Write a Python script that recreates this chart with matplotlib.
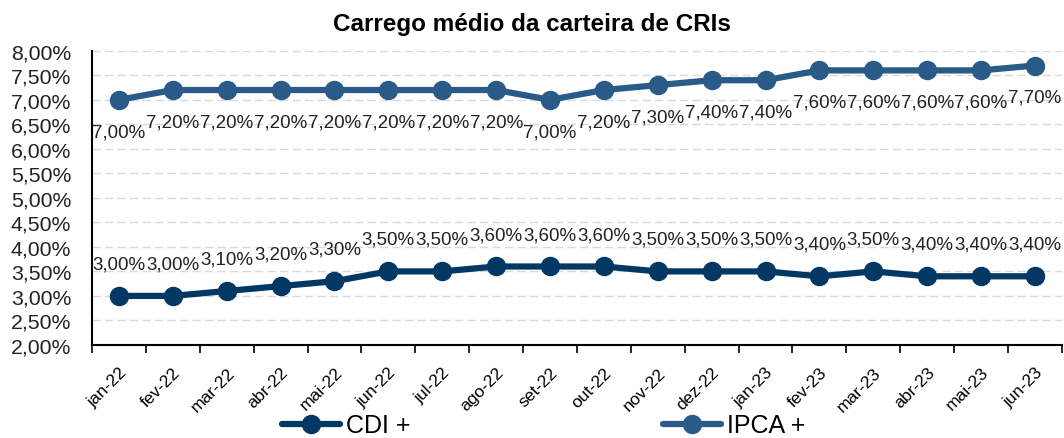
import numpy as np
import matplotlib.pyplot as plt
from matplotlib.ticker import FuncFormatter

plt.rcParams["font.family"] = ["Liberation Sans", "DejaVu Sans"]

months = ["jan-22", "fev-22", "mar-22", "abr-22", "mai-22", "jun-22", "jul-22",
          "ago-22", "set-22", "out-22", "nov-22", "dez-22", "jan-23", "fev-23",
          "mar-23", "abr-23", "mai-23", "jun-23"]
cdi = [3.0, 3.0, 3.1, 3.2, 3.3, 3.5, 3.5, 3.6, 3.6, 3.6, 3.5, 3.5, 3.5, 3.4,
       3.5, 3.4, 3.4, 3.4]
ipca = [7.0, 7.2, 7.2, 7.2, 7.2, 7.2, 7.2, 7.2, 7.0, 7.2, 7.3, 7.4, 7.4, 7.6,
        7.6, 7.6, 7.6, 7.7]

CDI_COLOR = "#033864"
IPCA_COLOR = "#2a5b88"


def pct(v):
    return f"{v:.2f}%".replace(".", ",")


fig = plt.figure(figsize=(10.64, 4.39), dpi=100)
ax = fig.add_axes([0.0865, 0.212, 0.9115, 0.67])

x = np.arange(len(months))
ax.plot(x, cdi, color=CDI_COLOR, lw=4.5, marker="o", ms=13, label="CDI +",
        solid_capstyle="round", zorder=3)
ax.plot(x, ipca, color=IPCA_COLOR, lw=4.5, marker="o", ms=13, label="IPCA +",
        solid_capstyle="round", zorder=3)

for xi, v in zip(x, cdi):
    ax.annotate(pct(v), (xi, v), xytext=(0, 23), textcoords="offset points",
                ha="center", va="center", fontsize=13.5, color="#222222")
for xi, v in zip(x, ipca):
    ax.annotate(pct(v), (xi, v), xytext=(0, -23), textcoords="offset points",
                ha="center", va="center", fontsize=13.5, color="#222222")

ax.set_xlim(-0.5, len(months) - 0.5)
ax.set_ylim(2.0, 8.0)
ax.set_yticks(np.arange(2.0, 8.01, 0.5))
ax.yaxis.set_major_formatter(FuncFormatter(lambda v, p: pct(v)))
ax.set_xticks(x)
ax.set_xticklabels(months, rotation=45, ha="right", rotation_mode="anchor",
                   fontsize=12.5)
ax.set_xticks(np.arange(-0.5, len(months), 1.0), minor=True)
ax.tick_params(axis="x", which="major", length=0, pad=14)
ax.tick_params(axis="x", which="minor", length=6, width=1.2, color="black")
ax.tick_params(axis="y", length=0, labelsize=15.3, pad=15, colors="#222222")

ax.grid(axis="y", color="#d9d9d9", ls=(0, (6, 3)), lw=1)
ax.set_axisbelow(True)
for s in ["top", "right"]:
    ax.spines[s].set_visible(False)
ax.spines["left"].set_linewidth(1.5)
ax.spines["bottom"].set_linewidth(1.5)

fig.suptitle("Carrego médio da carteira de CRIs", fontsize=17.5,
             fontweight="bold", x=0.5, y=0.97, va="top")

fig.legend(loc="lower center", bbox_to_anchor=(0.511, -0.05), ncol=2,
           frameon=False, fontsize=18, columnspacing=10.1, handlelength=2.3,
           handletextpad=0.25)

fig.savefig("out.png", dpi=100)
